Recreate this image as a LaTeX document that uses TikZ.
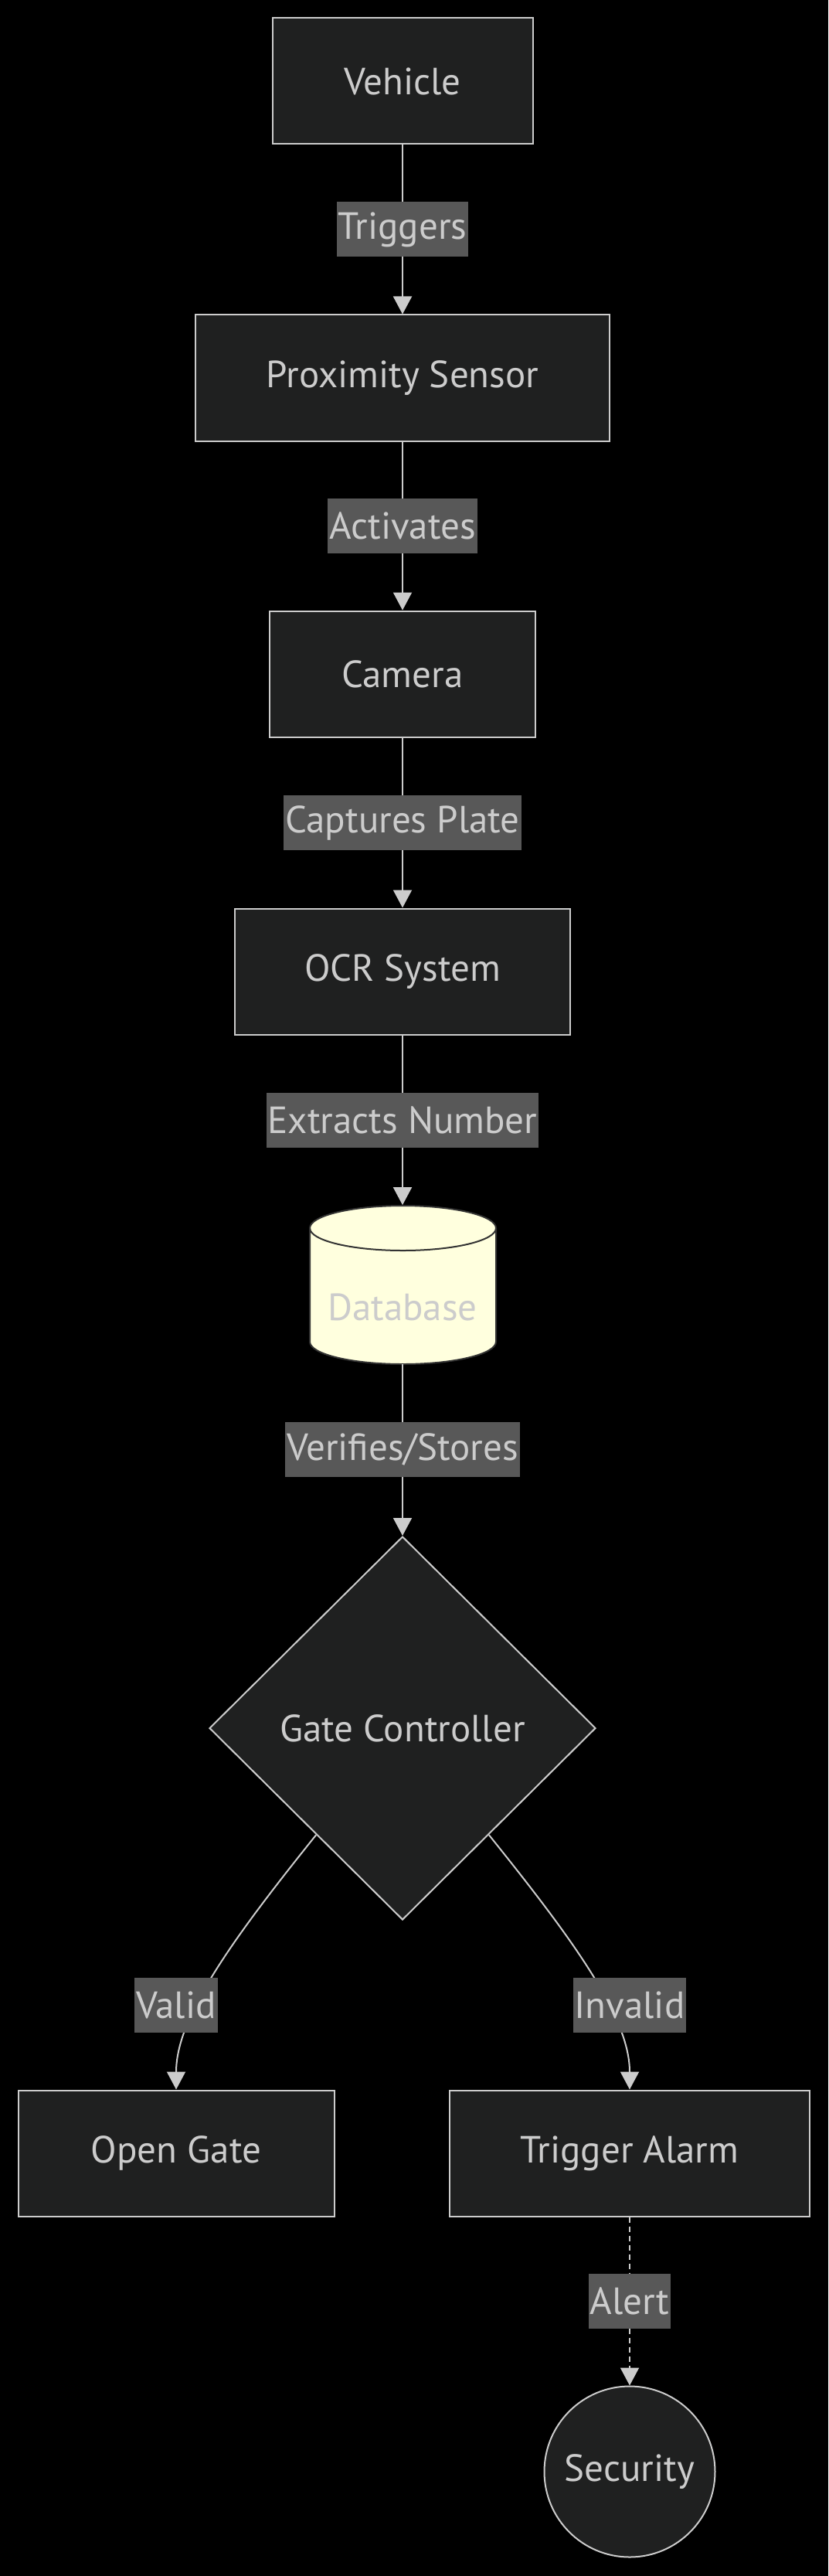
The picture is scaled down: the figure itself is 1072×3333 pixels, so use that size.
\documentclass[tikz,border=0pt]{standalone}
\usepackage{fontspec}
\setmainfont{PT Sans}
\usetikzlibrary{shapes.geometric,arrows.meta,positioning}

\definecolor{nodefill}{HTML}{1F2020}
\definecolor{linegray}{HTML}{CCCCCC}
\definecolor{lblbg}{HTML}{585858}
\definecolor{dbfill}{HTML}{FFFFDE}
\definecolor{dbline}{HTML}{333333}

\begin{document}
\begin{tikzpicture}[
    x=0.5pt, y=0.5pt,
    every node/.style={font=\fontsize{24.5}{29}\selectfont, text=linegray},
    box/.style={rectangle, draw=linegray, line width=1pt, fill=nodefill, minimum height=81.5pt, inner sep=0pt},
    decision/.style={diamond, draw=linegray, line width=1pt, fill=nodefill, minimum width=250pt, minimum height=248pt, inner sep=0pt},
    actor/.style={circle, draw=linegray, line width=1pt, fill=nodefill, minimum size=110.5pt, inner sep=0pt},
    store/.style={rectangle, minimum width=120.5pt, minimum height=102.5pt, inner sep=0pt, text height=50pt, text depth=4pt},
    lbl/.style={fill=lblbg, inner xsep=1pt, inner ysep=0pt, minimum height=35.5pt},
    wire/.style={draw=linegray, line width=1pt, -{Triangle[length=11.5pt, width=12pt]}},
    dotwire/.style={wire, dash pattern=on 3.5pt off 2.5pt}
]

% background
\fill[black] (0,0) rectangle (1072,-3333);

% flow down the middle
\node[box, minimum width=168.5pt] (vehicle) at (521,-105) {Vehicle};
\node[box, minimum width=268pt] (prox) at (521,-489) {Proximity Sensor};
\node[box, minimum width=172pt] (camera) at (521,-872) {Camera};
\node[box, minimum width=217pt] (ocr) at (521,-1257) {OCR System};

% database cylinder
\filldraw[fill=dbfill, draw=dbline, line width=1pt] (401,-1589) -- (401,-1736)
    arc[start angle=180, end angle=360, x radius=120.5, y radius=29] -- (642,-1589)
    arc[start angle=0, end angle=180, x radius=120.5, y radius=29] -- cycle;
\draw[dbline, line width=1pt] (401,-1589) arc[start angle=180, end angle=360, x radius=120.5, y radius=29];
\node[store] (db) at (521,-1662) {Database};

\node[decision] (gate) at (521,-2236) {Gate Controller};

% outcomes
\node[box, minimum width=204.5pt] (open) at (228,-2786) {Open Gate};
\node[box, minimum width=233pt] (alarm) at (815,-2786) {Trigger Alarm};
\node[actor] (security) at (815,-3198) {Security};

% connections
\draw[wire] (vehicle) -- node[lbl] (ltrig) {Triggers} (prox);
\draw[wire] (prox) -- node[lbl] (lact) {Activates} (camera);
\draw[wire] (camera) -- node[lbl] (lcap) {Captures Plate} (ocr);
\draw[wire] (ocr) -- node[lbl] (lext) {Extracts Number} (db);
\draw[wire] (db) -- node[lbl] (lver) {Verifies/Stores} (gate);
\draw[wire] (gate.231) .. controls (300,-2510) and (228,-2610) .. (open.north);
\draw[wire] (gate.309) .. controls (742,-2510) and (815,-2610) .. (alarm.north);
\node[lbl] (lvalid) at (228,-2594) {Valid};
\node[lbl] (linvalid) at (815,-2594) {Invalid};
\draw[dotwire] (alarm) -- node[lbl] (lalert) {Alert} (security);

\end{tikzpicture}
\end{document}
